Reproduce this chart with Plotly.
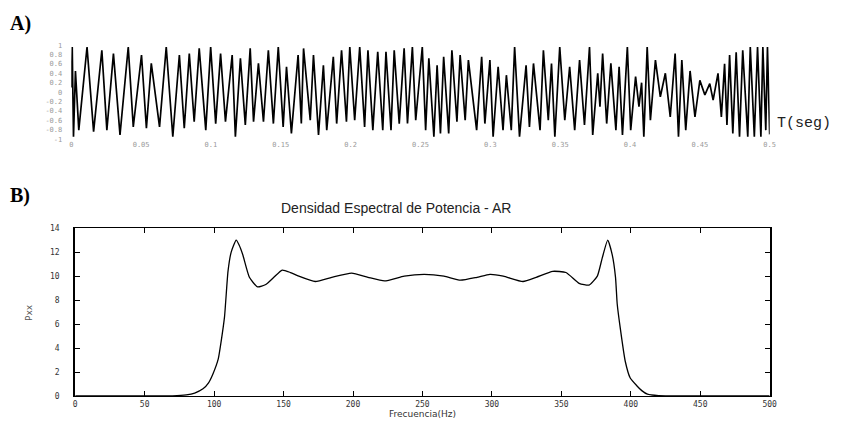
import plotly.graph_objects as go

W, H = 841, 425

# ---- Panel A: time signal (extremes) ----
t_ms = [0.0, 0.7, 1.6, 3.0, 5.4, 11.3, 16.0, 21.9, 25.5, 30.2, 34.9, 40.8, 44.4, 50.3, 53.8,
        57.3, 63.2, 68.0, 72.7, 77.4, 80.9, 84.5, 88.0, 91.6, 96.3, 99.8, 103.4, 106.9, 110.4, 115.2,
        117.5, 121.1, 124.6, 128.1, 130.5, 134.0, 137.6, 141.1, 144.7, 148.2, 151.7, 154.1, 157.6, 162.4, 164.7,
        166.3, 171.1, 173.4, 177.0, 180.5, 182.9, 187.6, 190.0, 193.5, 197.0, 199.4, 202.9, 206.5, 210.0, 212.4,
        215.9, 219.4, 223.0, 225.3, 228.9, 231.2, 234.8, 238.3, 240.7, 244.2, 246.6, 251.3, 253.7, 256.0, 259.6,
        261.9, 264.3, 266.6, 270.2, 272.5, 276.1, 278.4, 282.0, 284.3, 290.2, 293.8, 296.1, 299.7, 302.0, 305.6,
        309.1, 311.5, 315.0, 317.4, 320.9, 325.6, 328.0,
        330.9, 335.6, 338.0, 341.5, 343.8, 346.2, 349.7, 353.3, 356.8, 360.4, 363.9, 367.4, 371.0, 373.3, 376.9,
        378.5, 380.4, 383.3, 386.3, 389.9, 392.2, 394.6, 398.1, 400.5, 404.0, 406.4, 408.3, 409.9, 412.3, 414.6,
        418.2, 421.7, 425.3, 428.8, 432.3, 434.7, 437.1, 439.9, 443.0, 446.5, 450.0, 453.6, 457.1, 459.5, 463.0,
        465.4, 467.7, 469.4, 471.3, 473.6, 476.0, 478.4, 480.7, 484.3, 486.1, 489.0, 491.3, 493.7, 495.1, 497.2,
        498.4, 500.0]
amp = [0.10, 0.96, -0.95, 0.45, -0.81, 0.96, -0.84, 0.89, -0.81, 0.82, -0.91, 0.96, -0.74, 0.79, -0.77,
       0.61, -0.74, 0.96, -0.95, 0.79, -0.77, 0.82, -0.63, 0.93, -0.81, 0.96, -0.67, 0.82, -0.63, 0.79,
       -0.95, 0.72, -0.70, 0.93, -0.63, 0.61, -0.63, 0.89, -0.67, 0.96, -0.74, 0.54, -0.88, 0.79, -0.67,
       0.93, -0.60, 0.79, -0.91, 0.57, -0.81, 0.75, -0.67, 0.89, -0.63, 0.96, -0.60, 0.96, -0.74, 0.89,
       -0.81, 0.86, -0.81, 0.86, -0.81, 0.89, -0.67, 0.93, -0.67, 0.96, -0.60, 0.96, -0.81, 0.72, -0.95,
       0.57, -0.88, 0.75, -0.88, 0.89, -0.63, 0.79, -0.60, 0.68, -0.81, 0.75, -0.67, 0.68, -0.95, 0.54,
       -0.81, 0.36, -0.81, 0.96, -0.95, 0.57, -0.74,
       0.61, -0.81, 0.89, -0.60, 0.61, -0.95, 0.96, -0.60, 0.54, -0.81, 0.68, -0.70, 0.96, -0.91, 0.40,
       -0.31, 0.82, -0.67, 0.61, -0.81, 0.54, -0.91, 0.96, -0.81, 0.33, -0.31, 0.20, -0.95, 0.96, -0.60,
       0.68, -0.10, 0.40, -0.53, 0.82, -0.95, 0.68, -0.81, 0.45, -0.53, 0.25, -0.06, 0.18, -0.17, 0.40,
       -0.53, 0.60, -0.70, 0.79, -0.88, 0.85, -0.95, 0.89, -0.95, 0.96, -0.95, 0.96, -0.95, 0.96, -0.81,
       0.96, -0.90]
t_ticks = [0, 0.05, 0.1, 0.15, 0.2, 0.25, 0.3, 0.35, 0.4, 0.45, 0.5]
t_ticklabels = ["0", "0.05", "0.1", "0.15", "0.2", "0.25", "0.3", "0.35", "0.4", "0.45", "0.5"]
a_ticks = [-1, -0.8, -0.6, -0.4, -0.2, 0, 0.2, 0.4, 0.6, 0.8, 1]
a_ticklabels = ["-1", "-0.8", "-0.6", "-0.4", "-0.2", "0", "0.2", "0.4", "0.6", "0.8", "1"]

# ---- Panel B: AR power spectral density ----
freq = [0, 40, 70, 80, 86, 92, 96, 99, 103, 105, 107.5, 110, 112.3, 115.9, 118,
        120.6, 125.4, 131.3, 137.2, 143, 149, 155, 161, 172.8, 184.7, 199, 210.8, 222.7, 236.9, 251.2,
        265.5, 277.3, 289.2, 298.6, 308.2, 322.4, 331.9, 343.8, 353.3, 362.8, 369.9, 375.9, 379.4, 383.4, 386.6,
        389, 390.2, 392.5, 396, 399.6, 404.3, 407.9, 412, 420, 450, 500]
psd = [0, 0, 0.02, 0.1, 0.25, 0.6, 1.1, 1.8, 3.1, 4.5, 6.6, 10.4, 12.0, 13.0, 12.6,
       11.8, 9.9, 9.1, 9.3, 9.9, 10.5, 10.3, 10.0, 9.55, 9.9, 10.25, 9.9, 9.6, 10.0, 10.15,
       10.0, 9.66, 9.9, 10.15, 10.0, 9.55, 9.9, 10.4, 10.3, 9.4, 9.25, 10.0, 11.5, 13.0, 11.8,
       9.9, 7.7, 5.6, 2.9, 1.5, 0.86, 0.45, 0.15, 0.03, 0, 0]
f_ticks = [0, 50, 100, 150, 200, 250, 300, 350, 400, 450, 500]
p_ticks = [0, 2, 4, 6, 8, 10, 12, 14]

t_s = [v / 1000.0 for v in t_ms]

fig = go.Figure()
fig.add_trace(go.Scatter(x=t_s, y=amp, mode="lines", xaxis="x", yaxis="y",
                         line=dict(color="black", width=1.7), hoverinfo="skip"))
fig.add_trace(go.Scatter(x=freq, y=psd, mode="lines", xaxis="x2", yaxis="y2",
                         line=dict(color="black", width=1.3, shape="spline", smoothing=0.5),
                         hoverinfo="skip"))

def px(x):
    return x / W

def py(y):
    return 1 - y / H

faint = dict(family="DejaVu Sans Mono", size=7, color="#9a9a9a")
fig.update_layout(
    width=W, height=H, margin=dict(l=0, r=0, t=0, b=0),
    paper_bgcolor="white", plot_bgcolor="white", showlegend=False,
    xaxis=dict(domain=[px(70), px(776)], anchor="y", range=[0, 0.5],
               tickvals=t_ticks, ticktext=t_ticklabels, tickfont=faint,
               showgrid=False, zeroline=False, showline=False, ticks=""),
    yaxis=dict(domain=[py(138), py(42)], anchor="x", range=[-1, 1],
               tickvals=a_ticks, ticktext=a_ticklabels, tickfont=faint,
               showgrid=False, zeroline=False, showline=False, ticks="",
               ticklabelstandoff=8),
    xaxis2=dict(domain=[px(74), px(776)], anchor="y2", range=[0, 500],
                tickvals=f_ticks, tickfont=dict(family="DejaVu Sans Mono", size=8, color="#333"),
                showgrid=False, zeroline=False, showline=True, linecolor="black", linewidth=1,
                mirror="ticks", ticks="inside", ticklen=5, tickcolor="black",
                ticklabelstandoff=0),
    yaxis2=dict(domain=[py(400.5), py(229)], anchor="x2", range=[0, 14],
                tickvals=p_ticks, tickfont=dict(family="DejaVu Sans Mono", size=8, color="#333"),
                showgrid=False, zeroline=False, showline=True, linecolor="black", linewidth=2,
                mirror="ticks", ticks="inside", ticklen=5, tickcolor="black",
                ticklabelstandoff=12),
)

ann = [
    dict(text="<b>A)</b>", x=px(6), y=py(20), xanchor="left", yanchor="middle",
         font=dict(family="Liberation Serif", size=20, color="black")),
    dict(text="<b>B)</b>", x=px(6), y=py(196), xanchor="left", yanchor="middle",
         font=dict(family="Liberation Serif", size=20, color="black")),
    dict(text="T(seg)", x=px(781), y=py(122), xanchor="left", yanchor="middle",
         font=dict(family="Liberation Mono", size=15, color="#222")),
    dict(text="Densidad Espectral de Potencia - AR", x=px(398), y=py(208),
         xanchor="center", yanchor="middle",
         font=dict(family="Liberation Sans", size=14, color="#222")),
    dict(text="Frecuencia(Hz)", x=px(425), y=py(426), xanchor="center", yanchor="bottom",
         font=dict(family="DejaVu Sans", size=9, color="#333")),
    dict(text="Pxx", x=px(28), y=py(315), xanchor="center", yanchor="middle", textangle=-90,
         font=dict(family="DejaVu Sans", size=9, color="#555")),
]
for a in ann:
    a.update(xref="paper", yref="paper", showarrow=False)
fig.update_layout(annotations=ann)

fig.write_html("out.html")
